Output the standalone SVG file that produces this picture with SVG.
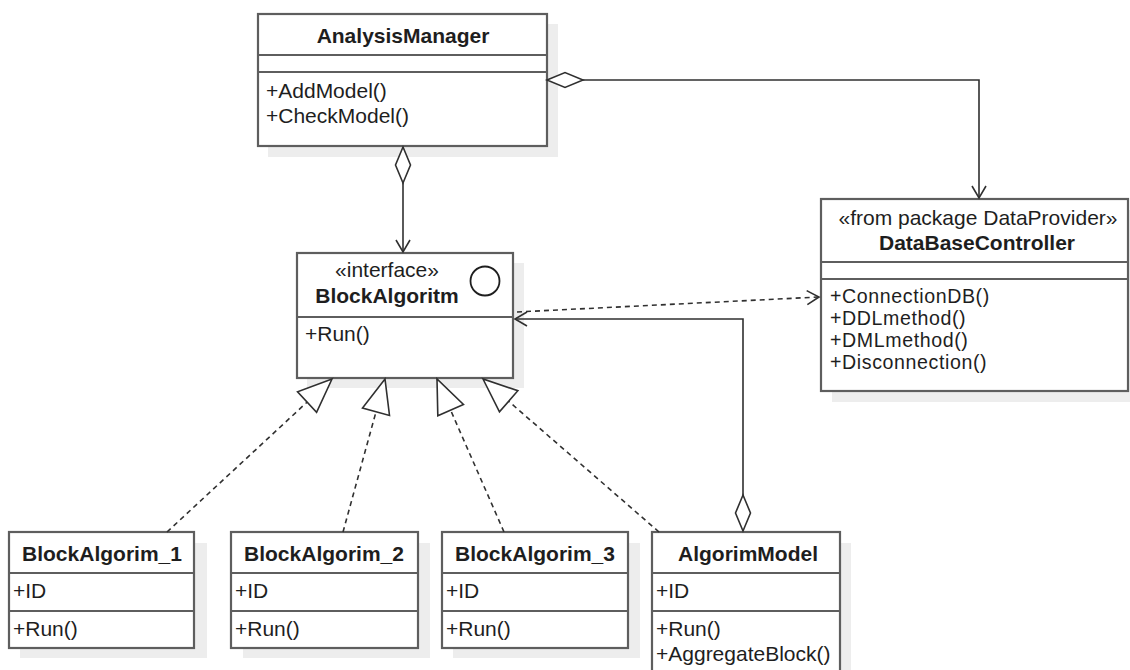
<svg xmlns="http://www.w3.org/2000/svg" width="1130" height="670" viewBox="0 0 1130 670">
<style>
.box{fill:#fff;stroke:#5e5e5e;stroke-width:2.2}
.sh{fill:#ededed}
.div{stroke:#5e5e5e;stroke-width:2}
.t{font-family:"Liberation Sans",Arial,sans-serif;font-size:21px;fill:#1e1e1e}
.m{font-size:19.6px;letter-spacing:0.6px}
.b{font-weight:bold;text-anchor:middle}
.c{text-anchor:middle}
.ln{fill:none;stroke:#303030;stroke-width:1.6}
.dash{stroke-dasharray:5 4}
</style>
<defs>
<marker id="open" markerUnits="userSpaceOnUse" markerWidth="20" markerHeight="20" refX="0" refY="0" orient="auto" overflow="visible">
<path d="M-12,-7 L0,0 L-12,7" fill="none" stroke="#303030" stroke-width="1.6"/>
</marker>
<marker id="dia" markerUnits="userSpaceOnUse" markerWidth="40" markerHeight="20" refX="0" refY="0" orient="auto" overflow="visible">
<path d="M0,0 L18,-7.5 L36,0 L18,7.5 Z" fill="#fff" stroke="#303030" stroke-width="1.6"/>
</marker>
<marker id="tri" markerUnits="userSpaceOnUse" markerWidth="40" markerHeight="40" refX="0" refY="0" orient="auto" overflow="visible">
<path d="M0,0 L-34,-14 L-34,14 Z" fill="#fff" stroke="#303030" stroke-width="1.6" stroke-dasharray="none"/>
</marker>
</defs>
<rect width="1130" height="670" fill="#fff"/>

<g id="AnalysisManager">
<rect class="sh" x="268" y="24" width="290" height="133"/>
<rect class="box" x="258" y="14" width="289" height="132"/>
<line class="div" x1="258" y1="55" x2="547" y2="55"/>
<line class="div" x1="258" y1="72" x2="547" y2="72"/>
<text class="t b" x="403" y="43">AnalysisManager</text>
<text class="t" x="266" y="98">+AddModel()</text>
<text class="t" x="266" y="123">+CheckModel()</text>
</g>

<g id="BlockAlgoritm">
<rect class="sh" x="307" y="263" width="217" height="125"/>
<rect class="box" x="297" y="253" width="216" height="125"/>
<line class="div" x1="297" y1="317" x2="513" y2="317"/>
<text class="t c" x="387" y="277">«interface»</text>
<text class="t b" x="387" y="303">BlockAlgoritm</text>
<circle cx="485" cy="281" r="14.5" fill="none" stroke="#1e1e1e" stroke-width="1.8"/>
<text class="t" x="305" y="341">+Run()</text>
</g>

<g id="DataBaseController">
<rect class="sh" x="832" y="210" width="300" height="192"/>
<rect class="box" x="821" y="199" width="307" height="192"/>
<line class="div" x1="821" y1="262" x2="1128" y2="262"/>
<line class="div" x1="821" y1="279" x2="1128" y2="279"/>
<text class="t c" x="978" y="225">«from package DataProvider»</text>
<text class="t b" x="977" y="250">DataBaseController</text>
<text class="t m" x="830" y="303">+ConnectionDB()</text>
<text class="t m" x="830" y="325">+DDLmethod()</text>
<text class="t m" x="830" y="347">+DMLmethod()</text>
<text class="t m" x="830" y="369">+Disconnection()</text>
</g>

<g id="BlockAlgorim_1">
<rect class="sh" x="20" y="543" width="187" height="115"/>
<rect class="box" x="9" y="532" width="185" height="116"/>
<line class="div" x1="9" y1="573" x2="194" y2="573"/>
<line class="div" x1="9" y1="611" x2="194" y2="611"/>
<text class="t b" x="102" y="561">BlockAlgorim_1</text>
<text class="t" x="13" y="598">+ID</text>
<text class="t" x="13" y="636">+Run()</text>
</g>

<g id="BlockAlgorim_2">
<rect class="sh" x="243" y="543" width="187" height="115"/>
<rect class="box" x="231" y="532" width="187" height="116"/>
<line class="div" x1="231" y1="573" x2="418" y2="573"/>
<line class="div" x1="231" y1="611" x2="418" y2="611"/>
<text class="t b" x="324" y="561">BlockAlgorim_2</text>
<text class="t" x="235" y="598">+ID</text>
<text class="t" x="235" y="636">+Run()</text>
</g>

<g id="BlockAlgorim_3">
<rect class="sh" x="453" y="543" width="187" height="115"/>
<rect class="box" x="442" y="532" width="186" height="116"/>
<line class="div" x1="442" y1="573" x2="628" y2="573"/>
<line class="div" x1="442" y1="611" x2="628" y2="611"/>
<text class="t b" x="535" y="561">BlockAlgorim_3</text>
<text class="t" x="446" y="598">+ID</text>
<text class="t" x="446" y="636">+Run()</text>
</g>

<g id="AlgorimModel">
<rect class="sh" x="663" y="543" width="188" height="140"/>
<rect class="box" x="652" y="532" width="188" height="150"/>
<line class="div" x1="652" y1="573" x2="840" y2="573"/>
<line class="div" x1="652" y1="611" x2="840" y2="611"/>
<text class="t b" x="748" y="561">AlgorimModel</text>
<text class="t" x="656" y="598">+ID</text>
<text class="t" x="656" y="636">+Run()</text>
<text class="t" x="656" y="661">+AggregateBlock()</text>
</g>

<g id="connectors">
<path class="ln" d="M547,80 H979 V198" marker-start="url(#dia)" marker-end="url(#open)"/>
<path class="ln" d="M403,147 V252" marker-start="url(#dia)" marker-end="url(#open)"/>
<path class="ln" d="M743,531 V319 H515" marker-start="url(#dia)" marker-end="url(#open)"/>
<path class="ln dash" d="M517,312 L819,297" marker-end="url(#open)"/>
<path class="ln dash" d="M167,532 L332,379" marker-end="url(#tri)"/>
<path class="ln dash" d="M343,532 L385,379" marker-end="url(#tri)"/>
<path class="ln dash" d="M504,532 L437,379" marker-end="url(#tri)"/>
<path class="ln dash" d="M659,532 L483,379" marker-end="url(#tri)"/>
</g>
</svg>
